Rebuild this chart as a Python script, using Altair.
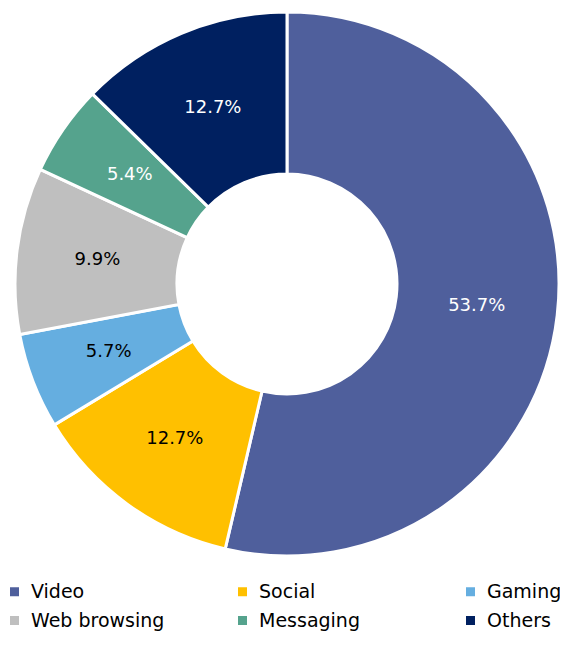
import altair as alt
import pandas as pd

categories = ["Video", "Social", "Gaming", "Web browsing", "Messaging", "Others"]
shares = [53.7, 12.7, 5.7, 9.9, 5.4, 12.7]
colors = ["#4F5F9C", "#FFC000", "#65AEE0", "#BFBFBF", "#55A38D", "#002060"]
label_colors = ["white", "black", "black", "black", "white", "white"]

df = pd.DataFrame({
    "category": categories,
    "share": shares,
    "order": list(range(len(categories))),
    "label": [f"{v:.1f}%" for v in shares],
    "tcolor": label_colors,
})

CX, CY = 279, 276

base = alt.Chart(df).encode(
    theta=alt.Theta("share:Q", stack=True),
    order=alt.Order("order:Q"),
    x=alt.value(CX),
    y=alt.value(CY),
)

arcs = base.mark_arc(outerRadius=272, innerRadius=110, stroke="white", strokeWidth=3).encode(
    color=alt.Color(
        "category:N",
        scale=alt.Scale(domain=categories, range=colors),
        sort=categories,
        legend=alt.Legend(
            title=None,
            orient="none",
            legendX=-3,
            legendY=574,
            direction="horizontal",
            columns=3,
            gridAlign="all",
            columnPadding=68,
            rowPadding=9,
            symbolType="square",
            symbolSize=81,
            symbolStrokeWidth=0,
            labelFontSize=19,
            labelFont="DejaVu Sans",
            labelColor="black",
            labelOffset=7,
            labelLimit=300,
        ),
    )
)

labels = base.mark_text(radius=191, fontSize=18, font="DejaVu Sans").encode(
    text="label:N",
    color=alt.Color("tcolor:N", scale=None),
)

chart = (arcs + labels).properties(
    width=552, height=624, padding=0,
    autosize=alt.AutoSizeParams(type="none"),
).configure_view(stroke=None)

chart.save("out.html", embed_options={"renderer": "svg", "actions": False})
